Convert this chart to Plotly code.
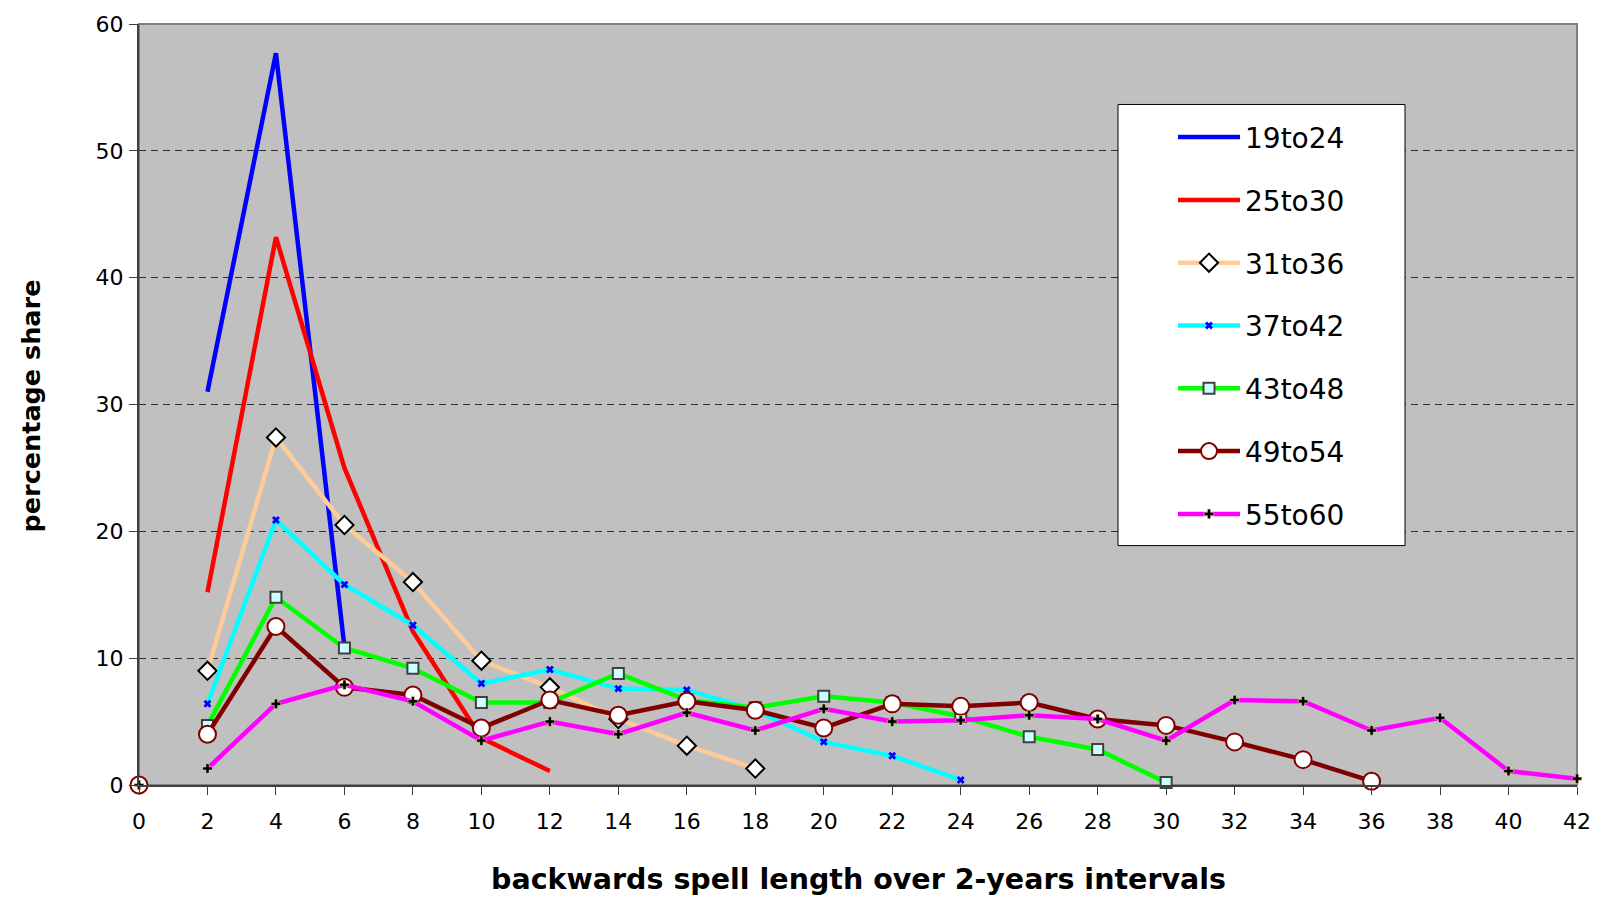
import plotly.graph_objects as go

# ---- data ----
x_19to24 = [2, 4, 6]
y_19to24 = [31.0, 57.7, 10.9]

x_25to30 = [2, 4, 6, 8, 10, 12]
y_25to30 = [15.2, 43.2, 25.0, 12.1, 3.7, 1.1]

x_31to36 = [2, 4, 6, 8, 10, 12, 14, 16, 18]
y_31to36 = [9.0, 27.4, 20.5, 16.0, 9.8, 7.7, 5.2, 3.1, 1.3]

x_37to42 = [2, 4, 6, 8, 10, 12, 14, 16, 18, 20, 22, 24]
y_37to42 = [6.4, 20.9, 15.8, 12.6, 8.0, 9.1, 7.6, 7.5, 5.9, 3.4, 2.3, 0.4]

x_43to48 = [2, 4, 6, 8, 10, 12, 14, 16, 18, 20, 22, 24, 26, 28, 30]
y_43to48 = [4.7, 14.8, 10.8, 9.2, 6.5, 6.5, 8.8, 6.7, 6.1, 7.0, 6.5, 5.4, 3.8, 2.8, 0.2]

x_49to54 = [2, 4, 6, 8, 10, 12, 14, 16, 18, 20, 22, 24, 26, 28, 30, 32, 34, 36]
y_49to54 = [4.0, 12.5, 7.7, 7.1, 4.5, 6.7, 5.5, 6.6, 5.9, 4.5, 6.4, 6.2, 6.5, 5.2, 4.7, 3.4, 2.0, 0.3]

x_55to60 = [2, 4, 6, 8, 10, 12, 14, 16, 18, 20, 22, 24, 26, 28, 30, 32, 34, 36, 38, 40, 42]
y_55to60 = [1.3, 6.4, 7.9, 6.6, 3.5, 5.0, 4.0, 5.7, 4.3, 6.0, 5.0, 5.1, 5.5, 5.2, 3.5, 6.7, 6.6, 4.3, 5.3, 1.1, 0.5]

# isolated points at the origin (no connecting line in the reference)
x_origin = [0]
y_origin_49to54 = [0.0]
y_origin_55to60 = [0.0]

x_ticks = list(range(0, 43, 2))
y_ticks = list(range(0, 61, 10))

LW = 4.5
fig = go.Figure()

def add(name, x, y, color, marker=None, group=None, showlegend=True, mode="lines+markers"):
    fig.add_trace(go.Scatter(
        x=x, y=y, name=name, mode=mode if marker else "lines",
        line=dict(color=color, width=LW),
        marker=marker, legendgroup=group or name, showlegend=showlegend,
        cliponaxis=False,
    ))

add("19to24", x_19to24, y_19to24, "#0000FF")
add("25to30", x_25to30, y_25to30, "#FF0000")
add("31to36", x_31to36, y_31to36, "#FFCC99",
    dict(symbol="diamond", size=14, color="white", line=dict(color="black", width=2)))
add("37to42", x_37to42, y_37to42, "#00FFFF",
    dict(symbol="x", size=7, color="#0000FF", line=dict(width=0)))
add("43to48", x_43to48, y_43to48, "#00FF00",
    dict(symbol="square", size=11, color="#CCFFFF", line=dict(color="#404040", width=2)))
add("49to54", x_49to54, y_49to54, "#800000",
    dict(symbol="circle", size=17, color="white", line=dict(color="#800000", width=2)))
add("49to54o", x_origin, y_origin_49to54, "#800000",
    dict(symbol="circle", size=17, color="white", line=dict(color="#800000", width=2)),
    group="49to54", showlegend=False, mode="markers")
add("55to60", x_55to60, y_55to60, "#FF00FF",
    dict(symbol="cross", size=8, color="black", line=dict(color="#FFFF99", width=0.5)))
add("55to60o", x_origin, y_origin_55to60, "#FF00FF",
    dict(symbol="cross", size=8, color="black", line=dict(color="#FFFF99", width=0.5)),
    group="55to60", showlegend=False, mode="markers")

L, R, T, B = 139, 31, 19, 120
W, H = 1608, 905
pw, ph = W - L - R, H - T - B

def px_x(p):
    return (p - L) / pw

def px_y(p):
    return (H - B - p) / ph

fig.update_layout(
    width=W, height=H,
    margin=dict(l=L, r=R, t=T, b=B),
    paper_bgcolor="white",
    plot_bgcolor="#C0C0C0",
    font=dict(family="DejaVu Sans", color="black"),
    showlegend=True,
    legend=dict(
        x=px_x(1173), y=px_y(108), xanchor="left", yanchor="top",
        bgcolor="rgba(0,0,0,0)", borderwidth=0,
        font=dict(family="DejaVu Sans", size=28, color="black"),
        tracegroupgap=23.4, traceorder="grouped", itemwidth=62,
    ),
    xaxis=dict(
        range=[0, 42], tickvals=x_ticks, ticktext=[str(v) for v in x_ticks],
        showgrid=False, zeroline=False,
        showline=True, linecolor="#404040", linewidth=2,
        ticks="outside", ticklen=8, tickcolor="#404040", tickwidth=1,
        tickfont=dict(family="DejaVu Sans", size=22, color="black"),
        ticklabelstandoff=8,
    ),
    yaxis=dict(
        range=[0, 60], tickvals=y_ticks, ticktext=[str(v) for v in y_ticks],
        showgrid=True, gridcolor="#303030", gridwidth=1, griddash="7px,5px",
        zeroline=False,
        showline=True, linecolor="#404040", linewidth=2,
        ticks="outside", ticklen=8, tickcolor="#404040", tickwidth=1,
        tickfont=dict(family="DejaVu Sans", size=22, color="black"),
        ticklabelstandoff=1,
    ),
    shapes=[
        # plot-area border (top/right)
        dict(type="rect", xref="paper", yref="paper", x0=0, x1=1, y0=0, y1=1,
             line=dict(color="#808080", width=2), fillcolor="rgba(0,0,0,0)", layer="below"),
        # legend box
        dict(type="rect", xref="paper", yref="paper",
             x0=px_x(1118), x1=px_x(1405), y0=px_y(544), y1=px_y(100),
             line=dict(color="black", width=1), fillcolor="white", layer="above"),
    ],
    annotations=[
        dict(text="<b>backwards spell length over 2-years intervals</b>",
             xref="paper", yref="paper", x=0.5, y=px_y(880),
             xanchor="center", yanchor="middle", showarrow=False,
             font=dict(family="DejaVu Sans", size=28.5, color="black")),
        dict(text="<b>percentage share</b>",
             xref="paper", yref="paper", x=px_x(31), y=px_y(404),
             xanchor="center", yanchor="middle", showarrow=False, textangle=-90,
             font=dict(family="DejaVu Sans", size=25.5, color="black")),
    ],
)
fig.write_html("out.html")
